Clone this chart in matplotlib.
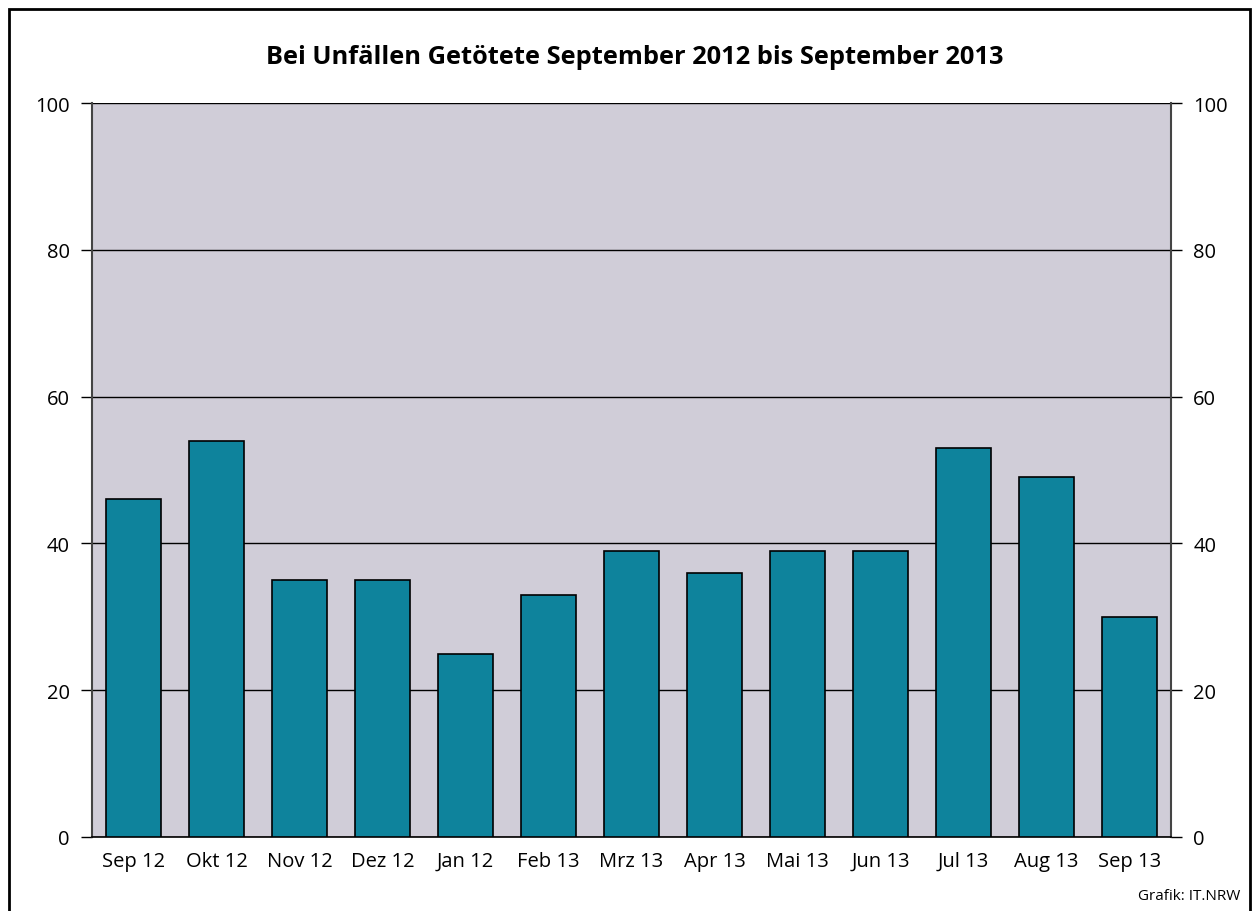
import matplotlib.pyplot as plt
from matplotlib.patches import Rectangle

plt.rcParams['font.family'] = ['Open Sans', 'DejaVu Sans']

months = ['Sep 12', 'Okt 12', 'Nov 12', 'Dez 12', 'Jan 12', 'Feb 13', 'Mrz 13',
          'Apr 13', 'Mai 13', 'Jun 13', 'Jul 13', 'Aug 13', 'Sep 13']
getoetete = [46, 54, 35, 35, 25, 33, 39, 36, 39, 39, 53, 49, 30]
yticks = [0, 20, 40, 60, 80, 100]

fig = plt.figure(figsize=(12.56, 9.12), dpi=100)
ax = fig.add_axes([92 / 1256, 1 - 838 / 912, (1171 - 92) / 1256, (838 - 104) / 912])

# outer frame
fig.patches.append(Rectangle((9 / 1256, -0.01), (1250 - 9) / 1256, (912 - 10) / 912 + 0.01,
                             transform=fig.transFigure, fill=False, edgecolor='black',
                             linewidth=2, zorder=0))

ax.set_facecolor('#d0cdd8')
ax.bar(range(len(months)), getoetete, width=0.67, color='#0e839c',
       edgecolor='black', linewidth=1.2, zorder=3)

ax.set_xlim(-0.5, len(months) - 0.5)
ax.set_ylim(0, 100)
ax.set_yticks(yticks)
ax.set_xticks(range(len(months)))
ax.set_xticklabels(months, fontsize=14.5)
ax.tick_params(axis='x', length=0, pad=10)
ax.tick_params(axis='y', length=8, width=1, labelsize=14.5, pad=8,
               left=True, right=True, labelleft=True, labelright=True)
ax.grid(axis='y', color='black', linewidth=1, zorder=1)
ax.set_axisbelow(True)

ax.spines['top'].set_visible(False)
ax.spines['left'].set_color('#444444')
ax.spines['right'].set_color('#444444')
ax.spines['left'].set_linewidth(1.5)
ax.spines['right'].set_linewidth(1.5)
ax.spines['bottom'].set_linewidth(1.2)

fig.text(635 / 1256, 1 - 57 / 912, 'Bei Unfällen Getötete September 2012 bis September 2013',
         ha='center', va='center', fontsize=18.3, fontweight='bold')
fig.text(1240 / 1256, 1 - 897 / 912, 'Grafik: IT.NRW', ha='right', va='center', fontsize=11)

fig.savefig('out.png', dpi=100)
